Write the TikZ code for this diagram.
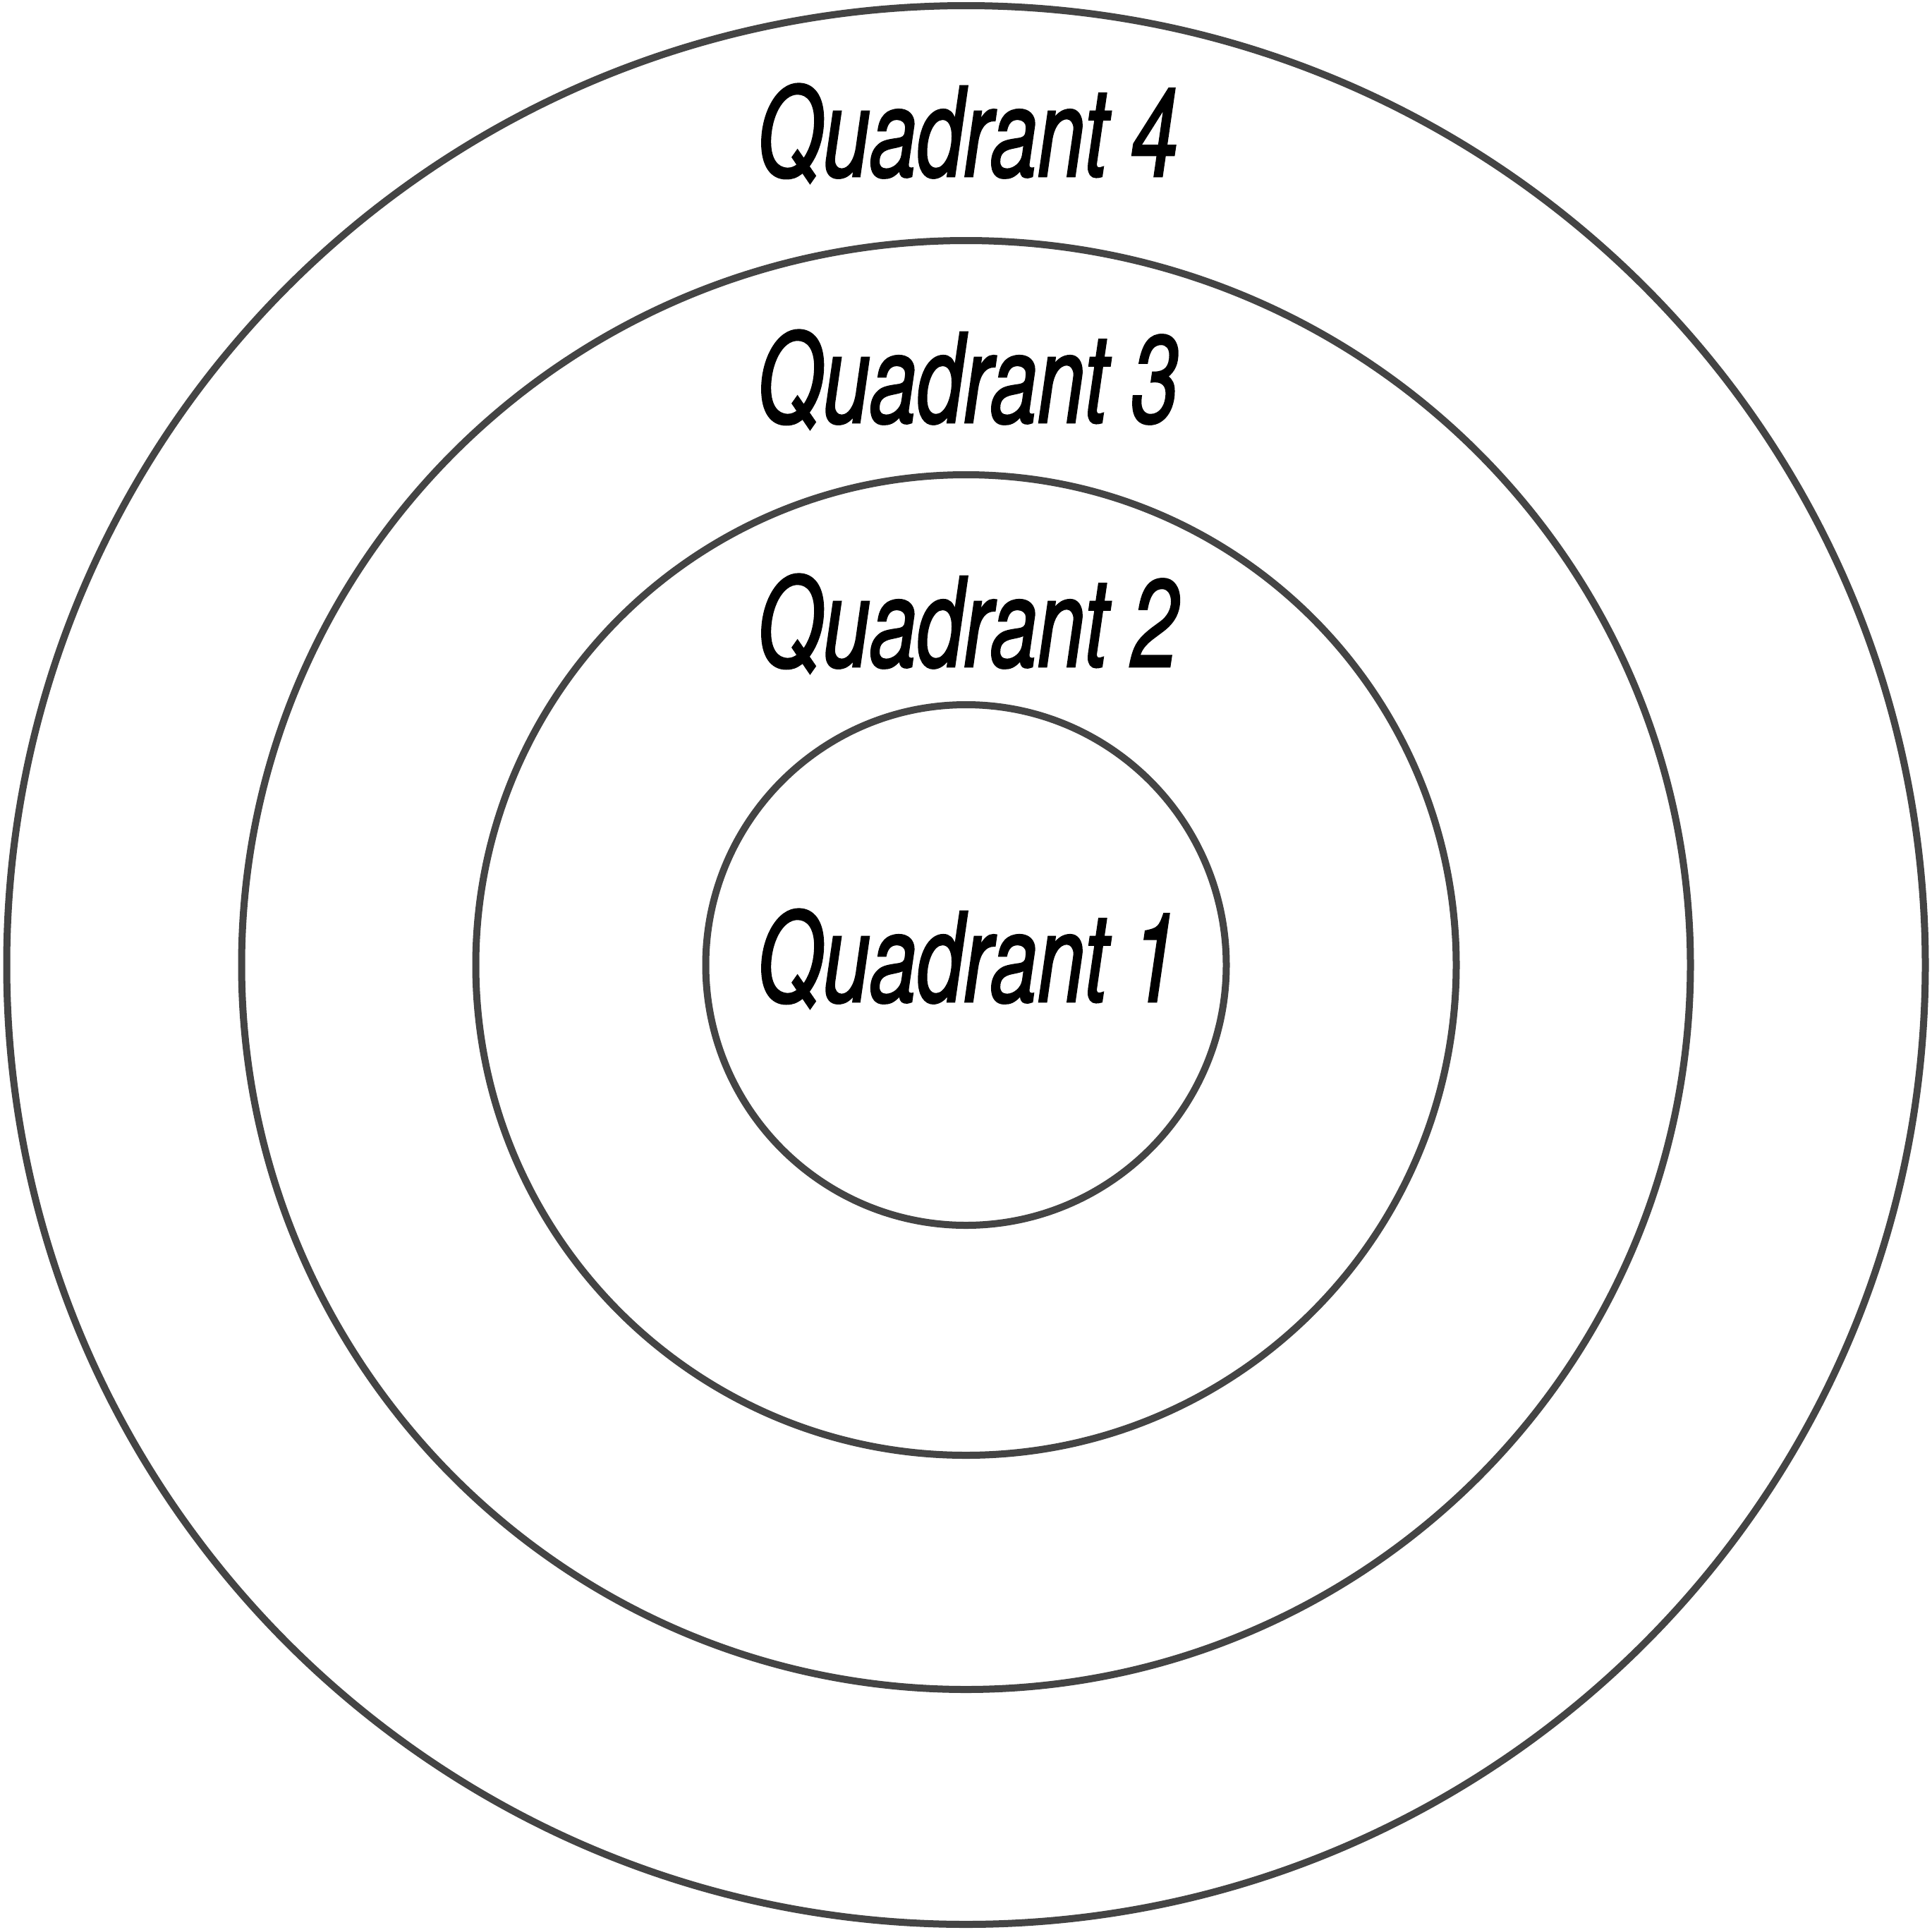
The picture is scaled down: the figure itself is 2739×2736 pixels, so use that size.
\documentclass[tikz,border=0pt]{standalone}
\usepackage{fontspec}
\newfontfamily\qfont[FakeStretch=0.68,FakeBold=1.5]{TeX Gyre Heros}
\definecolor{ringgray}{HTML}{444444}
\begin{document}
\begin{tikzpicture}[x=0.01cm,y=-0.01cm,
  ring/.style={draw=ringgray,line width=10*0.01cm},
  qlabel/.style={anchor=base,inner sep=0pt,font=\qfont\itshape\fontsize{50}{50}\selectfont}]
\useasboundingbox (0,0) rectangle (2739,2736);
\coordinate (c) at (1369.5,1368);
\draw[ring] (c) circle[radius=1360];
\draw[ring] (c) circle[radius=1027];
\draw[ring] (c) circle[radius=695];
\draw[ring] (c) circle[radius=369];
\node[qlabel] (q4) at (1372,250) {Quadrant 4};
\node[qlabel] (q3) at (1372,599) {Quadrant 3};
\node[qlabel] (q2) at (1372,945) {Quadrant 2};
\node[qlabel] (q1) at (1372,1420) {Quadrant 1};
\end{tikzpicture}
\end{document}
